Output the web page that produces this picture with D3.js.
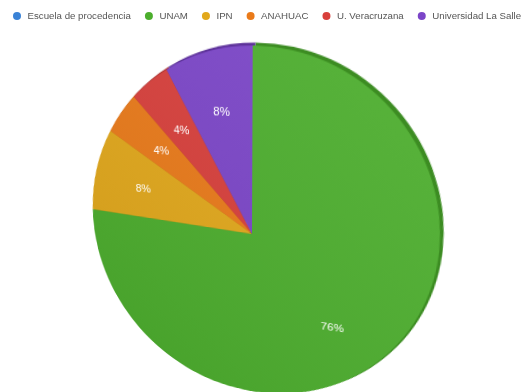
<!DOCTYPE html>
<html>
<head>
<meta charset="utf-8">
<script src="https://cdn.jsdelivr.net/npm/d3@7"></script>
<style>
  body { margin: 0; background: #fff; }
  #chart { position: relative; width: 528px; height: 392px; overflow: hidden; }
  #disc, #legend { position: absolute; left: 0; top: 0; }
  #disc svg { overflow: visible; }
  /* the pie is shown tilted, near side top-right */
  #disc {
    transform-origin: 252px 234px;
    transform: perspective(487px) rotate3d(1, 1, 0, -20deg) rotate(2deg) skewY(1.6deg);
  }
</style>
</head>
<body>
<div id="chart"><div id="disc"></div><div id="legend"></div></div>
<script>
const categories = ['Escuela de procedencia', 'UNAM', 'IPN', 'ANAHUAC', 'U. Veracruzana', 'Universidad La Salle']
const values = [0, 76, 8, 4, 4, 8]
const colors = ['#3a82d6', '#4cae2d', '#e2a81b', '#ea7a19', '#d83f3b', '#7b45c8']
const rimColors = ['#2a66aa', '#3c8c22', '#b98812', '#bb5f10', '#a92d2a', '#5d3299']

const width = 528
const height = 460
const cx = 252
const cy = 234
const radius = 177

const data = categories.map((name, i) => ({ name, value: values[i], color: colors[i], rim: rimColors[i] }))
const total = d3.sum(values)
const pct = d3.format('.0%')

const pie = d3.pie().sort(null).value(d => d.value)
const arcs = pie(data).filter(d => d.data.value > 0)

const arc = d3.arc().innerRadius(0).outerRadius(radius)
const rimArc = d3.arc().innerRadius(0).outerRadius(radius + 0.5)
const labelArc = d3.arc().innerRadius(radius * 0.69).outerRadius(radius * 0.69)

const svg = d3.select('#disc').append('svg')
  .attr('width', width)
  .attr('height', height)

const defs = svg.append('defs')
const shade = defs.append('linearGradient')
  .attr('id', 'shade')
  .attr('x1', 1).attr('y1', 0)
  .attr('x2', 0).attr('y2', 1)
shade.selectAll('stop')
  .data([
    { offset: '0%', color: '#fff', opacity: 0.07 },
    { offset: '100%', color: '#000', opacity: 0.08 }
  ])
  .enter().append('stop')
  .attr('offset', d => d.offset)
  .attr('stop-color', d => d.color)
  .attr('stop-opacity', d => d.opacity)

const g = svg.append('g')
  .attr('transform', `translate(${cx},${cy})`)

// darker copy behind, peeks out as the rim
g.append('g')
  .attr('transform', 'translate(2.5,-2)')
  .selectAll('path')
  .data(arcs)
  .join('path')
  .attr('d', rimArc)
  .attr('fill', d => d.data.rim)

g.append('g')
  .selectAll('path')
  .data(arcs)
  .join('path')
  .attr('d', arc)
  .attr('fill', d => d.data.color)

g.append('circle')
  .attr('r', radius)
  .attr('fill', 'url(#shade)')

g.append('g')
  .selectAll('text')
  .data(arcs)
  .join('text')
  .attr('transform', d => `translate(${labelArc.centroid(d)})`)
  .attr('text-anchor', 'middle')
  .attr('dy', '0.35em')
  .attr('fill', '#fff')
  .style('font-family', '"Liberation Sans", Arial, sans-serif')
  .style('font-size', '11.5px')
  .text(d => pct(d.data.value / total))

// legend
const legend = d3.select('#legend').append('svg')
  .attr('width', width)
  .attr('height', 30)

let x = 17
data.forEach(d => {
  legend.append('circle')
    .attr('cx', x)
    .attr('cy', 16)
    .attr('r', 4)
    .attr('fill', d.color)
  const t = legend.append('text')
    .attr('x', x + 10.5)
    .attr('y', 16)
    .attr('dy', '0.35em')
    .attr('fill', '#555')
    .style('font-family', '"Liberation Sans", Arial, sans-serif')
    .style('font-size', '9.7px')
    .text(d.name)
  x += 10.5 + t.node().getComputedTextLength() + 18
})
</script>
</body>
</html>
